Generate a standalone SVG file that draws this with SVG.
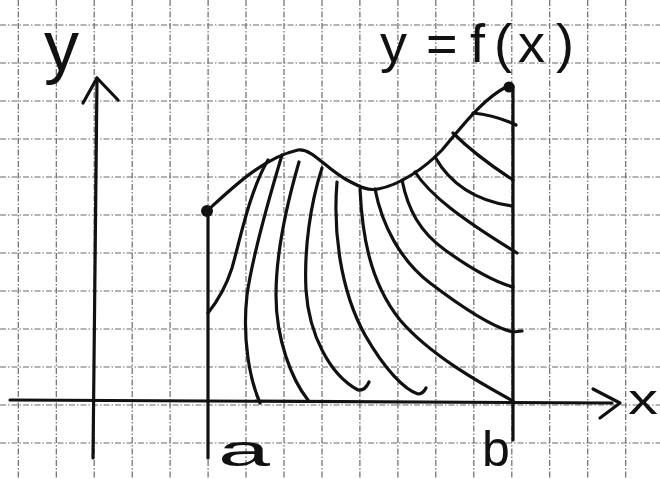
<svg xmlns="http://www.w3.org/2000/svg" width="660" height="479" viewBox="0 0 660 479">
<style>
.grid line{stroke:#6a6a6a;stroke-width:1.2;stroke-dasharray:6 2 1.5 2}
.ink{fill:none;stroke:#111;stroke-width:3.2;stroke-linecap:round;stroke-linejoin:round}
.lbl{font-family:"Liberation Sans",Arial,sans-serif;fill:#111}
</style>
<rect width="660" height="479" fill="#fff"/>
<g id="grid" class="grid">
<line x1="18.3" y1="0" x2="18.3" y2="479"/><line x1="56.3" y1="0" x2="56.3" y2="479"/><line x1="94.2" y1="0" x2="94.2" y2="479"/><line x1="132.2" y1="0" x2="132.2" y2="479"/><line x1="170.1" y1="0" x2="170.1" y2="479"/><line x1="208.1" y1="0" x2="208.1" y2="479"/><line x1="246" y1="0" x2="246" y2="479"/><line x1="284" y1="0" x2="284" y2="479"/><line x1="322" y1="0" x2="322" y2="479"/><line x1="359.9" y1="0" x2="359.9" y2="479"/><line x1="397.9" y1="0" x2="397.9" y2="479"/><line x1="435.8" y1="0" x2="435.8" y2="479"/><line x1="473.8" y1="0" x2="473.8" y2="479"/><line x1="511.8" y1="0" x2="511.8" y2="479"/><line x1="549.7" y1="0" x2="549.7" y2="479"/><line x1="587.7" y1="0" x2="587.7" y2="479"/><line x1="625.7" y1="0" x2="625.7" y2="479"/>
<line x1="0" y1="25" x2="660" y2="25"/><line x1="0" y1="63" x2="660" y2="63"/><line x1="0" y1="101" x2="660" y2="101"/><line x1="0" y1="139" x2="660" y2="139"/><line x1="0" y1="177" x2="660" y2="177"/><line x1="0" y1="215" x2="660" y2="215"/><line x1="0" y1="253" x2="660" y2="253"/><line x1="0" y1="291" x2="660" y2="291"/><line x1="0" y1="329" x2="660" y2="329"/><line x1="0" y1="367" x2="660" y2="367"/><line x1="0" y1="405" x2="660" y2="405"/><line x1="0" y1="443" x2="660" y2="443"/>
</g>
<g id="axes" class="ink">
<path d="M10,400 L612,403"/>
<path d="M593,389 L620,403 L600,418"/>
<path d="M93,458 L97,78"/>
<path d="M83,103 L97,78 L118,100"/>
<path d="M208,212 L208,458"/>
<path d="M513,86 L513,440"/>
</g>
<g id="curve" class="ink">
<path d="M207,211 C230,190 262,158 298,150 C312,148 325,168 347,180 C360,187 368,191 378,189 C400,185 425,168 442,150 C458,132 480,100 508,86"/>
<circle cx="207" cy="211" r="6" fill="#111" stroke="none"/>
<circle cx="509" cy="87" r="5.5" fill="#111" stroke="none"/>
</g>
<g id="hatching" class="ink">
<path d="M268,160 C250,190 240,240 232,268 C225,290 216,303 208,313"/>
<path d="M282,155 C270,195 252,260 247,295 C242,340 250,380 260,403"/>
<path d="M299,162 C288,200 276,250 276,295 C276,340 292,380 308,400"/>
<path d="M322,168 C310,205 304,250 306,290 C309,335 330,375 358,390 Q365,391 369,382"/>
<path d="M337,182 C333,230 340,290 365,335 C385,370 405,390 418,394 Q423,394 426,388"/>
<path d="M360,189 C362,230 368,280 400,320 C430,355 480,383 513,401"/>
<path d="M375,189 C382,225 400,260 430,283 C455,302 490,327 513,332 L522,331"/>
<path d="M402,180 C408,210 420,232 445,250 C470,268 495,282 513,287"/>
<path d="M415,172 C430,195 460,218 517,253"/>
<path d="M435,157 C448,180 470,200 512,206"/>
<path d="M453,133 C470,150 490,165 513,180"/>
<path d="M473,113 Q495,115 516,125"/>
</g>
<g id="labels" class="lbl">
<text x="44" y="70" font-size="70">y</text>
<text font-size="54" y="62"><tspan x="380">y</tspan><tspan x="408"> </tspan><tspan x="426">=</tspan><tspan x="460"> </tspan><tspan x="470">f</tspan><tspan x="494">(</tspan><tspan x="518">x</tspan><tspan x="556">)</tspan></text>
<text x="218" y="466" font-size="44" textLength="52" lengthAdjust="spacingAndGlyphs">a</text>
<text x="482" y="466" font-size="50">b</text>
<text x="628" y="414" font-size="42" textLength="30" lengthAdjust="spacingAndGlyphs">x</text>
</g>
</svg>
